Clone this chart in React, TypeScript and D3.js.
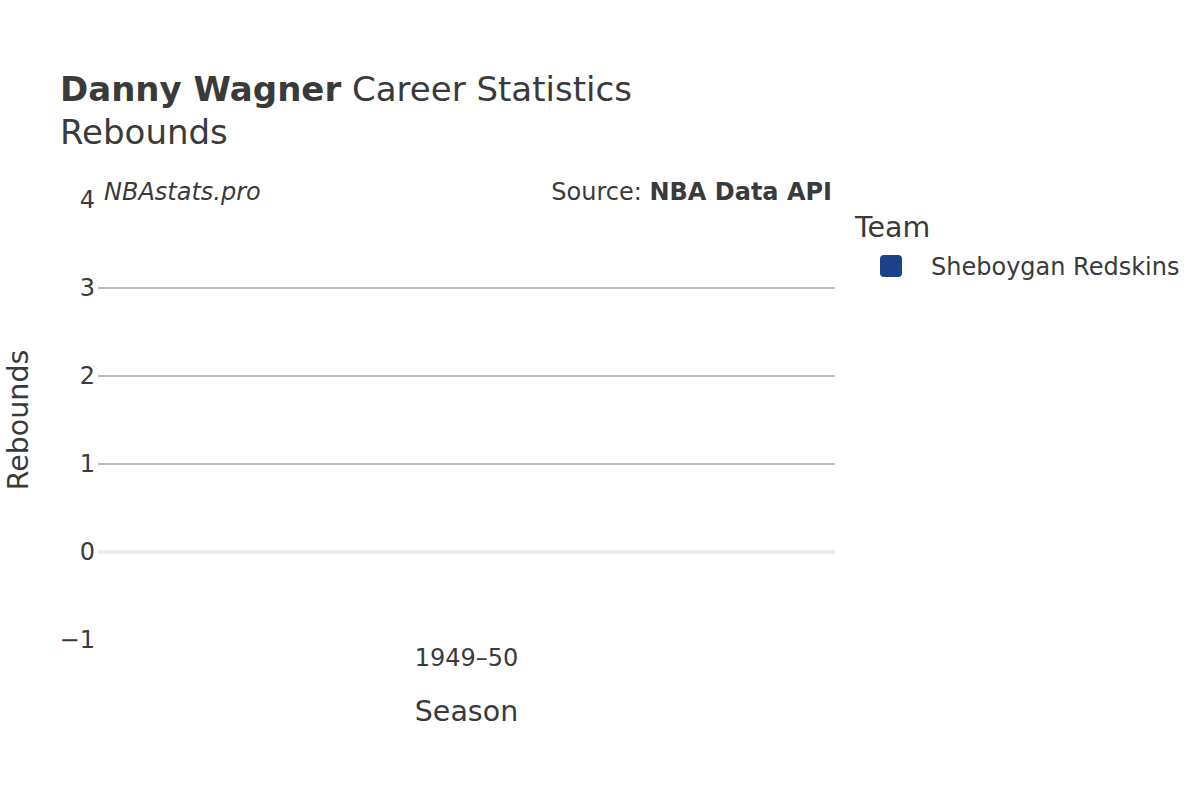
import * as d3 from 'd3';

const seasons = ['1949–50'];
const rebounds = [0];
const teams = ['Sheboygan Redskins'];
const teamColors = ['#1D428A'];
const yTicks = [-1, 0, 1, 2, 3, 4];

const W = 1200;
const H = 800;
const plot = { left: 98, right: 835, top: 200, bottom: 640 };
const textColor = '#3a3a3a';
const font = '"DejaVu Sans", sans-serif';

export default function App() {
	const x = d3.scaleBand<string>().domain(seasons).range([plot.left, plot.right]).padding(0.2);
	const y = d3.scaleLinear().domain([-1, 4]).range([plot.bottom, plot.top]);

	return (
		<svg
			width={W}
			height={H}
			style={{ position: 'absolute', left: 0, top: 0, background: '#fff' }}
			fontFamily={font}
		>
			{/* title */}
			<text x={60} y={101} fontSize={34} fill={textColor}>
				<tspan fontWeight="bold">Danny Wagner</tspan> Career Statistics
			</text>
			<text x={60} y={144} fontSize={34} fill={textColor}>
				Rebounds
			</text>

			{/* grid lines */}
			{yTicks
				.filter((t) => t > -1 && t < 4)
				.map((t) => (
					<line
						key={t}
						x1={plot.left}
						x2={plot.right}
						y1={y(t)}
						y2={y(t)}
						stroke={t === 0 ? '#ebebeb' : '#bdbdbd'}
						strokeWidth={t === 0 ? 4 : 2}
					/>
				))}

			{/* y tick labels */}
			{yTicks.map((t) => (
				<text key={t} x={95} y={y(t) + 8} textAnchor="end" fontSize={24} fill={textColor}>
					{t < 0 ? `−${Math.abs(t)}` : t}
				</text>
			))}

			{/* bars */}
			{seasons.map((s, i) => (
				<rect
					key={s}
					x={x(s)}
					width={x.bandwidth()}
					y={Math.min(y(rebounds[i]), y(0))}
					height={Math.abs(y(rebounds[i]) - y(0))}
					fill={teamColors[0]}
				/>
			))}

			{/* x tick labels */}
			{seasons.map((s) => (
				<text key={s} x={x(s)! + x.bandwidth() / 2} y={666} textAnchor="middle" fontSize={24} fill={textColor}>
					{s}
				</text>
			))}

			{/* axis titles */}
			<text x={(plot.left + plot.right) / 2} y={721} textAnchor="middle" fontSize={28.5} fill={textColor}>
				Season
			</text>
			<text
				transform={`translate(28, ${(plot.top + plot.bottom) / 2}) rotate(-90)`}
				textAnchor="middle"
				fontSize={28.5}
				fill={textColor}
			>
				Rebounds
			</text>

			{/* annotations */}
			<text x={104} y={200} fontSize={24} fontStyle="italic" fill={textColor}>
				NBAstats.pro
			</text>
			<text x={832} y={200} textAnchor="end" fontSize={24} fill={textColor}>
				Source: <tspan fontWeight="bold">NBA Data API</tspan>
			</text>

			{/* legend */}
			<text x={855} y={237} fontSize={28.5} fill={textColor}>
				Team
			</text>
			{teams.map((t, i) => (
				<g key={t} transform={`translate(880, ${255 + i * 30})`}>
					<rect width={22} height={22} rx={4} fill={teamColors[i]} />
					<text x={51} y={20} fontSize={24} fill={textColor}>
						{t}
					</text>
				</g>
			))}
		</svg>
	);
}
